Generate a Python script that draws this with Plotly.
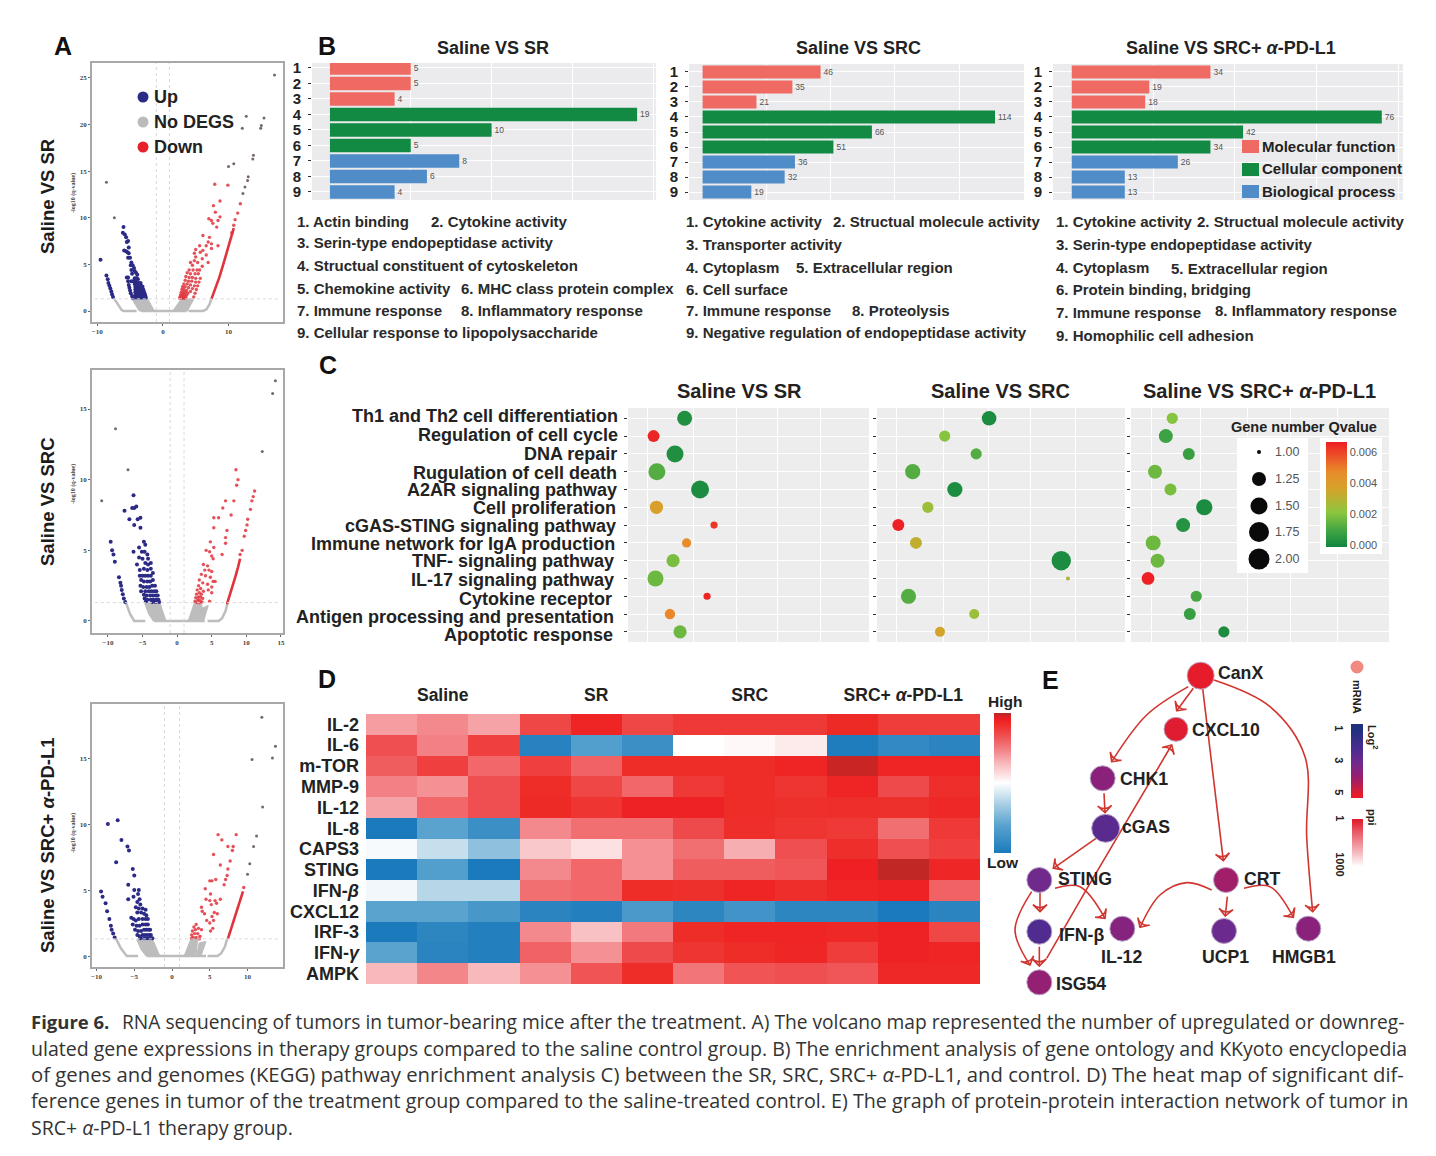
import plotly.graph_objects as go
import numpy as np

W, H = 1436, 1156
SANS = "Liberation Sans"
SERIF = "Liberation Serif"

# ---------- A: volcano data (read by eye) ----------
v1_up = [(-9.5,5.5),(-8.6,3.8),(-8.4,3.4),(-8.3,3.0),(-8.15,2.7),(-8.0,2.4),(-7.85,2.1),(-7.75,1.8),(-7.6,1.5),
 (-6,9),(-6.1,8.4),(-5.8,8.2),(-5.6,7.9),(-5.5,7.4),(-5.3,7.5),(-5.2,6.8),(-5.4,6.3),(-5.9,6.5),(-5.6,6.4),(-5.2,6.2),
 (-5.3,5.7),(-5,5.7),(-4.8,5.2),(-4.9,4.9),(-4.6,4.9),(-4.4,4.6),(-4.8,4.4),(-4.3,4.3),(-4.1,4.1),(-4.7,4.0),(-3.9,3.9),
 (-5.5,3.6),(-5.3,3.6),(-4.3,3.5),(-4.0,3.5),(-3.8,3.4),(-4.8,3.2),(-4.5,3.2),(-4.1,3.2),(-5.3,3.2),(-5.2,2.8),(-5.1,2.5),(-5.0,2.2),
 (-4.9,1.9),(-4.7,1.6),(-4.6,1.4),(-4.3,2.9),(-4.0,2.9),(-3.7,3.0),(-3.4,3.0),(-4.2,2.6),(-3.9,2.6),(-3.6,2.6),(-3.3,2.7),(-3.1,2.6),
 (-4.2,2.3),(-3.9,2.3),(-3.6,2.3),(-3.3,2.3),(-3.0,2.3),(-2.9,2.1),(-4.2,2.0),(-3.9,2.0),(-3.6,2.0),(-3.3,2.0),(-3.0,2.0),(-2.8,1.9),
 (-4.2,1.7),(-3.9,1.7),(-3.6,1.7),(-3.3,1.7),(-3.0,1.7),(-2.7,1.7),(-4.1,1.45),(-3.8,1.45),(-3.5,1.45),(-3.2,1.45),(-2.9,1.45),(-2.6,1.45)]
v1_down = [(7.9,13.6),(9.9,13.5),(8.7,11.8),(7.7,11.3),(8,10.6),(8.7,10.1),(8.4,9.7),(7,9.9),(7.4,9.7),(7.6,9.4),(8.2,9),(6.1,8.1),(7.1,7.9),
 (6.9,7.4),(7.4,7.2),(6.6,7),(5.6,7),(5,6.6),(6.1,6.5),(4.8,6.2),(5.7,6.3),(7.4,6.7),(8.4,7),(5,5.8),(4.8,5.4),(5.3,5.2),(6,5.6),(6.6,6),(6.9,5.2),
 (4.2,5.2),(4.5,4.9),(4,4.4),(4.6,4.4),(5.2,4.4),(5.6,4.4),(6,4.8),(3.7,4.1),(4.2,4),(4.9,4),(5.4,4),(3.5,3.7),(4,3.6),(4.5,3.6),(5,3.5),(5.7,3.5),
 (3.4,3.3),(3.9,3.2),(4.4,3.2),(5,3.1),(3.2,2.9),(3.7,2.9),(4.2,2.8),(4.8,2.7),(3,2.6),(3.4,2.6),(3.9,2.5),(4.5,2.4),(2.9,2.3),(3.2,2.3),(3.6,2.2),(4.2,2.1),
 (2.8,2.0),(3.1,2.0),(3.4,2.0),(3.8,1.9),(2.7,1.75),(3,1.75),(3.3,1.75),(3.6,1.7),(4.7,1.5),(4.9,1.9),(5.1,2.3),(5.3,2.7),(5.5,3.1),
 (2.6,1.5),(2.9,1.5),(3.2,1.5),(3.5,1.45),(2.6,1.35),(3,1.35),(3.4,1.35),(10.5,8.4),(10.8,9.2),(11,9.8),(11.4,10.5),(11.8,11.5)]
v1_far = [(-8.6,13.8),(-7.4,10),(17,25.3),(12.7,20.9),(12.1,19.6),(15.4,20.7),(15,19.9),(14.9,19.6),(13.8,16.7),(13.7,16.3),(10.8,15.8),(10,15.5),(13,14.4),(12.9,14),(12.5,13.3),(12.2,12.6)]
v1_streak_x = [7.4,8,8.6,9.2,9.8,10.4,10.8]
v1_streak_y = [1.3,2.4,3.6,5,6.4,8,8.9]
v1_gray = [([-7.4,-6.8,-6.3,-6,-4],[1.3,.6,.12,0,0]),([-4.6,-4.1,-3.6,-3.3],[1.3,.7,.15,0]),([-3.3,3.6],[0,0]),([3.6,4.1,4.6],[0,.7,1.3]),([3.9,6.1,6.6,7.1,7.4],[0,0,.15,.7,1.3])]
v1_wedges = [([-4.6,-2.3,-1.3,-3.3],[1.3,1.3,0,0]),([2.8,4.6,3.6,1.5],[1.3,1.3,0,0])]

v2_up = [(-6.3,8.9),(-7.6,7.8),(-6.5,8),(-6.2,8),(-5.9,8.1),(-6.9,7.2),(-5.7,7.2),(-5.3,7.3),(-6.2,6.8),(-5.3,6.6),(-9.6,5.6),(-9.4,5),(-9.2,4.7),(-9,4.2),(-8.4,3.1),
 (-8.2,2.7),(-8.1,2.5),(-8.0,2.2),(-7.85,1.9),(-7.7,1.6),(-7.5,1.35),(-4.8,5.6),(-5.5,5.2),(-4.6,5.4),(-6.3,4.9),(-5.1,4.9),(-4.7,4.9),(-4.3,4.7),(-5.5,4.5),(-5,4.4),(-4.2,4.4),
 (-5.8,4),(-4.6,4.1),(-4.2,4.0),(-3.8,4.1),(-5.4,3.6),(-4.8,3.7),(-4.3,3.6),(-3.8,3.7),(-5.4,3.2),(-5,3.2),(-4.6,3.2),(-4.2,3.2),(-3.8,3.2),(-3.5,3.4),
 (-5.2,2.9),(-4.8,2.8),(-4.3,2.8),(-3.9,2.8),(-3.5,2.9),(-5.3,2.5),(-4.9,2.4),(-4.4,2.4),(-4,2.4),(-3.6,2.5),(-3.2,2.5),(-5.2,2.1),(-4.6,2.1),(-4.1,2.1),(-3.7,2.1),(-3.3,2.1),(-3,2.1),
 (-4.8,1.85),(-4.4,1.8),(-3.9,1.8),(-3.5,1.8),(-3.1,1.8),(-2.8,1.8),(-4.7,1.6),(-4.5,1.4),(-4.3,1.5),(-3.8,1.5),(-3.4,1.5),(-3,1.5),(-2.7,1.5),(-3.6,1.35),(-3.1,1.35),(-2.6,1.35)]
v2_down = [(8.5,10.7),(8.8,10),(8.6,9.6),(11.2,9.2),(11,8.8),(10.8,8.5),(7,8.5),(8.2,8.5),(6.6,8),(7.8,7.5),(5.3,7.3),(6,7.3),(10.6,7.9),(10.2,7.2),(10.1,6.8),(7.2,6.4),(5.3,6.6),
 (9.9,6.4),(9.7,6),(7,5.9),(7,5.5),(4.8,5.6),(9.4,5),(9.1,4.7),(6.5,4.7),(5.3,5.2),(4.2,5),(4.7,4.9),(5,4.6),(5.2,4.4),(3.8,4),(4.4,3.9),(4,3.6),(4.6,3.6),(5,3.5),(3.5,3.3),(4.1,3.2),(4.8,3.1),
 (5.5,2.8),(5.2,2.8),(3.2,2.9),(3.7,2.7),(4.4,2.6),(5,2.4),(3.1,2.5),(3.4,2.3),(3.8,2.1),(4.5,2.2),(5,2),(2.9,2.2),(3.2,2),(3.5,1.9),(2.8,1.9),(3.1,1.7),(3.4,1.7),(3.7,1.6),
 (2.7,1.65),(3,1.5),(3.3,1.45),(3.6,1.35),(2.6,1.4),(2.9,1.3),(3.2,1.3),(4.7,1.4)]
v2_far = [(-8.9,13.6),(-7.1,10.7),(-10.9,8.5),(14.2,17),(13.8,16.1),(12.3,12)]
v2_streak_x = [7.2,7.6,8,8.4,8.8,9.1]
v2_streak_y = [1.2,1.8,2.5,3.1,3.8,4.4]
v2_gray = [([-7.4,-6.8,-6.2,-4.6],[1.3,.5,0,0]),([-4.6,-4,-3.3],[1.3,.5,0]),([-3.3,4],[0,0]),([4.4,6,6.5,7,7.3],[0,0,.2,.7,1.3])]
v2_wedges = [([-4.4,-2.5,-1.6,-3.4],[1.3,1.3,0,0]),([2.5,3.5,3.9,1.6],[1.3,1.3,.2,0]),([3.6,4.5,3.9,3.2],[.9,1.1,.1,.1])]

v3_up = [(-7.2,10.3),(-8.5,10),(-6.7,8.8),(-5.9,8.3),(-5.7,8),(-7.4,7.1),(-5.2,6.6),(-5,6.1),(-5.8,5.4),(-9.4,4.9),(-9.2,4.5),(-8.8,4),(-8.6,3.4),(-8.3,2.8),(-8.1,2.3),(-8,2.0),(-7.8,1.7),(-7.6,1.4),
 (-4.4,5),(-5,5),(-5.8,4.3),(-5.1,4.5),(-4.5,4.7),(-4.3,4.3),(-4.6,4.1),(-4.2,3.9),(-4.8,3.7),(-4.4,3.6),(-3.9,3.6),(-3.5,3.5),(-4.6,3.3),(-4.1,3.3),(-3.7,3.2),(-3.4,3.1),
 (-5.4,2.9),(-5.1,2.8),(-4.8,2.7),(-4.4,2.8),(-3.9,2.8),(-3.5,2.8),(-3.2,2.8),(-5.2,2.4),(-4.7,2.3),(-4.3,2.3),(-3.9,2.4),(-3.5,2.4),(-3.2,2.4),(-4.9,2.0),(-4.5,1.9),(-4.1,1.9),(-3.7,2),(-3.4,2),(-3.1,2),(-2.9,2),
 (-4.6,1.6),(-4.3,1.5),(-3.9,1.6),(-3.6,1.6),(-3.3,1.6),(-3,1.6),(-2.8,1.6),(-4.2,1.35),(-3.7,1.35),(-3.3,1.35),(-2.9,1.35),(-2.6,1.35)]
v3_down = [(6.1,9.2),(6.6,8.8),(8.5,9.2),(7.4,8.3),(8.1,8.3),(8,8),(5.5,7.7),(7.7,7.2),(6.4,6.9),(7.4,6.6),(7.3,6.1),(7.1,5.8),(5.8,5.8),(5,5.7),(5.3,5.7),(6.9,5.4),(9.5,5.2),(4.4,5.1),(5.1,4.7),
 (4.5,4.3),(5,4.2),(5.7,4.2),(6.4,4.3),(5.9,4),(5.2,3.9),(3.9,3.7),(4,3.4),(4.3,3.2),(5.6,3.3),(6,3.2),(5.3,3),(4.6,2.7),(5,2.5),(5.5,2.7),(3.2,2.4),(2.9,2.2),(3.1,2),(3.5,2.1),(3.9,2),
 (2.7,1.9),(3,1.7),(3.4,1.7),(3.7,1.5),(2.6,1.6),(2.8,1.4),(3.2,1.4),(2.6,1.35),(3.6,1.3),(5.4,2.1),(5.1,1.9)]
v3_far = [(11.9,18.1),(13.7,15.9),(10.6,14.9),(13.3,15),(12,11.3),(11.2,9.1),(10.8,8.3),(10.3,7),(10,6.2)]
v3_streak_x = [7.4,7.8,8.2,8.6,9,9.4]
v3_streak_y = [1.3,2,2.8,3.5,4.2,4.9]
v3_gray = [([-7.4,-6.8,-6,-4.5],[1.3,.6,0,0]),([-4.6,-4,-3.3],[1.3,.5,0]),([-3.3,4.5],[0,0]),([4.7,6,6.5,7,7.3],[0,0,.2,.7,1.3])]
v3_wedges = [([-4.4,-2.6,-1.6,-3.4],[1.3,1.3,0,0]),([2.5,3.4,3.2,1.6],[1.3,1.3,.1,0]),([3.6,4.5,3.9,3.3],[1.0,1.1,.1,.1])]

v_ticks = [([-10,0,10],[0,5,10,15,20,25]),([-10,-5,0,5,10,15],[0,5,10,15]),([-10,-5,0,5,10],[0,5,10,15])]
v_names = ["Saline VS SR","Saline VS SRC","Saline VS SRC+ <i>α</i>-PD-L1"]
legend_a = ["Up","No DEGS","Down"]

# ---------- B ----------
b_rows = list(range(1,10))
b_vals = [[5,5,4,19,10,5,8,6,4],[46,35,21,114,66,51,36,32,19],[34,19,18,76,42,34,26,13,13]]
b_titles = ["Saline VS SR","Saline VS SRC","Saline VS SRC+ <i>α</i>-PD-L1"]
b_groups = ["Molecular function","Cellular component","Biological process"]
b_terms = [(298,222,"1. Actin binding"),(432,222,"2. Cytokine activity"),(298,243,"3. Serin-type endopeptidase activity"),
 (298,266,"4. Structual constituent of cytoskeleton"),(298,288,"5. Chemokine activity"),(462,288,"6. MHC class protein complex"),
 (298,311,"7. Immune response"),(462,311,"8. Inflammatory response"),(298,333,"9. Cellular response to lipopolysaccharide"),
 (687,222,"1. Cytokine activity"),(834,222,"2. Structual molecule activity"),(687,245,"3. Transporter activity"),(687,267,"4. Cytoplasm"),
 (797,267,"5. Extracellular region"),(687,289,"6. Cell surface"),(687,311,"7. Immune response"),(853,311,"8. Proteolysis"),
 (687,333,"9. Negative regulation of endopeptidase activity"),
 (1057,222,"1. Cytokine activity"),(1198,222,"2. Structual molecule activity"),(1057,245,"3. Serin-type endopeptidase activity"),
 (1057,267,"4. Cytoplasm"),(1172,268,"5. Extracellular region"),(1057,290,"6. Protein binding, bridging"),(1057,312,"7. Immune response"),
 (1216,311,"8. Inflammatory response"),(1057,335,"9. Homophilic cell adhesion")]

# ---------- C ----------
pathways = ["Th1 and Th2 cell differentiation","Regulation of cell cycle","DNA repair","Rugulation of cell death","A2AR signaling pathway",
 "Cell proliferation","cGAS-STING signaling pathway","Immune network for IgA production","TNF- signaling pathway","IL-17 signaling pathway",
 "Cytokine receptor","Antigen processing and presentation","Apoptotic response"]
c_x = [[23.5,10.6,19.5,12,29.9,11.8,35.7,24.3,18.7,11.4,32.8,17.4,21.6],
       [45.2,27.3,40,14.4,31.4,20.5,8.6,15.7,74.3,77,12.7,39.2,25.4],
       [16,13.5,22.4,9.3,15.3,28.4,20.2,8.6,10.3,6.6,25.3,22.8,36]]
c_gene = [[1.33,1.2,1.5,1.5,1.58,1.23,1.08,1.13,1.23,1.42,1.08,1.16,1.23],
          [1.3,1.18,1.18,1.35,1.35,1.18,1.2,1.2,1.7,1.0,1.35,1.15,1.15],
          [1.18,1.25,1.2,1.25,1.2,1.43,1.25,1.33,1.25,1.22,1.18,1.2,1.18]]
c_q = [[.0002,.0065,.0002,.0012,.0001,.0038,.0062,.0046,.0018,.0016,.0065,.0048,.0016],
       [.0001,.002,.0012,.0012,.0001,.0024,.0066,.0032,.0001,.0028,.0012,.0024,.0036],
       [.002,.0008,.0007,.0016,.0018,.0001,.0003,.0016,.0016,.0066,.001,.0007,.0001]]
c_titles = ["Saline VS SR","Saline VS SRC","Saline VS SRC+ <i>α</i>-PD-L1"]
size_levels = [1.00,1.25,1.50,1.75,2.00]
q_ticks = [0,.002,.004,.006]

# ---------- D ----------
genes = ["IL-2","IL-6","m-TOR","MMP-9","IL-12","IL-8","CAPS3","STING","IFN-<i>β</i>","CXCL12","IRF-3","IFN-<i>γ</i>","AMPK"]
groups_d = ["Saline","SR","SRC","SRC+ <i>α</i>-PD-L1"]
heat = [[.38,.45,.36,.72,.88,.72,.78,.78,.78,.85,.76,.76],
 [.68,.48,.75,-.92,-.65,-.8,0,.03,.08,-.97,-.85,-.9],
 [.62,.75,.58,.75,.6,.84,.84,.84,.88,.97,.88,.88],
 [.48,.42,.68,.84,.72,.58,.78,.84,.8,.88,.7,.83],
 [.36,.58,.68,.85,.8,.89,.89,.84,.82,.83,.82,.86],
 [-1,-.6,-.8,.45,.55,.55,.7,.83,.8,.78,.55,.78],
 [-.03,-.2,-.4,.22,.12,.42,.55,.32,.68,.83,.68,.75],
 [-1,-.65,-1,.45,.58,.42,.62,.62,.65,.9,.98,.87],
 [-.05,-.25,-.25,.55,.58,.84,.82,.88,.83,.88,.89,.6],
 [-.6,-.6,-.72,-.9,-.95,-.7,-.88,-.75,-.88,-.88,-1,-.9],
 [-1,-.88,-.95,.45,.25,.5,.84,.88,.88,.86,.89,.72],
 [-.6,-.9,-.95,.6,.42,.7,.8,.84,.87,.76,.89,.88],
 [.28,.46,.28,.42,.66,.84,.52,.66,.68,.65,.86,.86]]

# ---------- E ----------
node_names = ["CanX","CXCL10","CHK1","cGAS","STING","CRT","IFN-β","IL-12","UCP1","HMGB1","ISG54"]
node_x = [572,498,278,287,88,648,88,337,642,895,88]
node_y = [77,238,385,535,690,690,845,836,843,836,997]
node_log2 = [5,4.9,3.6,2.5,3,4,2.3,3.5,2.9,3.6,3.8]
node_label_x = [628,548,332,338,148,705,150,275,578,788,140]
node_label_y = [68,240,388,530,686,686,855,920,920,920,1003]
edges = [([535,410,305],[110,195,335]),([550,500],[115,182]),([578,640],[115,632]),
 ([612,780,885,890,908],[90,170,320,560,785]),([282,285],[430,488]),([258,130],[565,655]),
 ([110,240,485],[925,700,285]),([135,210,285],[715,710,805]),([605,530,450,390],[720,698,735,832]),
 ([652,646],[740,798]),([702,780,850],[715,710,802]),([90,90],[728,785]),([88,88],[890,948]),([65,15,60],[725,840,945])]
log2_levels = [1,2,3,4,5]
ppi_levels = [1,250,500,750,1000]

caption = [(122,1021,19.2,"RNA sequencing of tumors in tumor-bearing mice after the treatment. A) The volcano map represented the number of upregulated or downreg-"),
 (31,1048,19.55,"ulated gene expressions in therapy groups compared to the saline control group. B) The enrichment analysis of gene ontology and KKyoto encyclopedia"),
 (31,1074,20.3,"of genes and genomes (KEGG) pathway enrichment analysis C) between the SR, SRC, SRC+ <i>α</i>-PD-L1, and control. D) The heat map of significant dif-"),
 (31,1100,19.7,"ference genes in tumor of the treatment group compared to the saline-treated control. E) The graph of protein-protein interaction network of tumor in"),
 (31,1127,19.5,"SRC+ <i>α</i>-PD-L1 therapy group.")]

# ---------- helpers ----------
fig = go.Figure()
layout = {}
anns, shapes = [], []
axn = [1]

def px(x): return x / W
def py(y): return 1 - y / H

def axes(x0, x1, y0, y1, xr, yr, xkw=None, ykw=None):
    axn[0] += 1
    n = axn[0]
    xa = dict(domain=[px(x0), px(x1)], range=xr, anchor=f"y{n}", showgrid=False, zeroline=False)
    ya = dict(domain=[py(y1), py(y0)], range=yr, anchor=f"x{n}", showgrid=False, zeroline=False)
    xa.update(xkw or {}); ya.update(ykw or {})
    layout[f"xaxis{n}"] = xa
    layout[f"yaxis{n}"] = ya
    return f"x{n}", f"y{n}"

def txt(x, y, s, size=14, anchor="left", bold=True, angle=0, color="#222222", family=SANS):
    shift = {"left": -3, "right": 3, "center": 0}[anchor]
    anns.append(dict(xref="paper", yref="paper", x=px(x), y=py(y), text=s, showarrow=False, xanchor=anchor, yanchor="middle", xshift=shift,
                     textangle=angle, font=dict(size=size, color=color, family=family, weight="bold" if bold else "normal")))

def circle(cx, cy, d, color):
    shapes.append(dict(type="circle", xref="paper", yref="paper", x0=px(cx-d/2), x1=px(cx+d/2), y0=py(cy+d/2), y1=py(cy-d/2),
                       fillcolor=color, line=dict(width=0), layer="above"))

def rect(x0, y0, x1, y1, color):
    shapes.append(dict(type="rect", xref="paper", yref="paper", x0=px(x0), x1=px(x1), y0=py(y1), y1=py(y0),
                       fillcolor=color, line=dict(width=0), layer="above"))

def unz(p): return [a for a, _ in p], [b for _, b in p]

# ---------- A ----------
BLUE, RED, GRAY = "#2b2a85", "#e0333c", "#bdbdbd"
vdata = [(v1_up,v1_down,v1_far,v1_streak_x,v1_streak_y,v1_gray,v1_wedges),
         (v2_up,v2_down,v2_far,v2_streak_x,v2_streak_y,v2_gray,v2_wedges),
         (v3_up,v3_down,v3_far,v3_streak_x,v3_streak_y,v3_gray,v3_wedges)]
vbox = [(63,322,[-10.8,18.3],[-1.18,26.6]),(370,633,[-12.3,15.3],[-.85,17.76]),(704,967,[-10.6,14.7],[-.83,19.1])]
vname_y = [197,502,845]
for i,(up,dn,far,sx,sy,gl,wd) in enumerate(vdata):
    y0,y1,xr,yr = vbox[i]
    tf = dict(size=7, family=SERIF, color="#444444", weight="bold")
    frame = dict(showline=True, mirror=True, linecolor="#a8a8a8", linewidth=1.5, ticks="outside", ticklen=2, tickcolor="#666666", tickwidth=1, tickfont=tf)
    xa,ya = axes(92,283,y0,y1,xr,yr,dict(tickvals=v_ticks[i][0],**frame),dict(tickvals=v_ticks[i][1],**frame))
    for xv,yv in wd:
        fig.add_trace(go.Scatter(x=xv+xv[:1],y=yv+yv[:1],mode="lines",fill="toself",fillcolor=GRAY,line=dict(color=GRAY,width=1),xaxis=xa,yaxis=ya,hoverinfo="skip"))
    for xv,yv in gl:
        fig.add_trace(go.Scatter(x=xv,y=yv,mode="lines",line=dict(color=GRAY,width=2.5),xaxis=xa,yaxis=ya,hoverinfo="skip"))
    fig.add_trace(go.Scatter(x=sx,y=sy,mode="lines",line=dict(color=RED,width=2.6),xaxis=xa,yaxis=ya,hoverinfo="skip"))
    ux,uy = unz(up); dx,dy = unz(dn); fx,fy = unz(far)
    fig.add_trace(go.Scatter(x=ux,y=uy,mode="markers",marker=dict(size=4,color=BLUE),xaxis=xa,yaxis=ya,name="Up"))
    fig.add_trace(go.Scatter(x=dx,y=dy,mode="markers",marker=dict(size=3.4,color=RED,opacity=.85),xaxis=xa,yaxis=ya,name="Down"))
    fig.add_trace(go.Scatter(x=fx,y=fy,mode="markers",marker=dict(size=3,color="#77686c"),xaxis=xa,yaxis=ya,name="Far"))
    for v in (-1,1):
        shapes.append(dict(type="line",xref=xa,yref=f"{ya} domain",x0=v,x1=v,y0=0,y1=1,line=dict(color="#d8d8d8",width=1,dash="3px,3px"),layer="above"))
    shapes.append(dict(type="line",xref=f"{xa} domain",yref=ya,x0=.015,x1=.985,y0=1.3,y1=1.3,line=dict(color="#d8d8d8",width=1,dash="3px,3px"),layer="above"))
    txt(73,[193,484,833][i],"-log10 (q-value)",size=6,angle=-90,anchor="center",family=SERIF,color="#444444")
    txt(47,vname_y[i],v_names[i],size=18.5,angle=-90,anchor="center",color="#1c1c1c")

for lab,yy,col in zip(legend_a,[97,122,147],[BLUE,"#bbbbbb","#e8222a"]):
    circle(143,yy,11,col)
    txt(155,yy,lab,size=18)

# ---------- B ----------
C_B = ["#ee6a62"]*3+["#138a43"]*3+["#4f8cc8"]*3
bbox = [(312,656,63,200,[-1.11,20.17],[9.52,.68],[5,10,15,20]),
        (689,1024,64,200,[-5.3,125.3],[9.53,.47],[25,50,75,100,125]),
        (1053,1403,64,200,[-4.6,81.2],[9.53,.47],[20,40,60,80])]
btx = [493,858,1231]
for i in range(3):
    x0,x1,y0,y1,xr,yr,gr = bbox[i]
    xa,ya = axes(x0,x1,y0,y1,xr,yr,
        dict(showgrid=True,gridcolor="white",gridwidth=1,tickvals=gr,showticklabels=False,ticks=""),
        dict(showgrid=True,gridcolor="white",gridwidth=1,tickvals=b_rows,ticks="outside",ticklen=3,tickcolor="#333333",
             tickfont=dict(size=15,family=SANS,color="#222222",weight="bold"),ticklabelstandoff=4))
    shapes.append(dict(type="rect",xref="paper",yref="paper",x0=px(x0),x1=px(x1),y0=py(y1),y1=py(y0),fillcolor="#ebebed",line=dict(width=0),layer="below"))
    fig.add_trace(go.Bar(x=b_vals[i],y=b_rows,orientation="h",marker=dict(color=C_B,line=dict(width=0)),width=.87,text=b_vals[i],
                         textposition="outside",cliponaxis=False,textfont=dict(size=8.5,color="#555555",family=SANS),xaxis=xa,yaxis=ya,hoverinfo="skip"))
    txt(btx[i],48,b_titles[i],size=18,anchor="center")
for (xx,yy,s) in b_terms:
    txt(xx,yy,s,size=15,color="#2a2a2a")
for lab,yy,col in zip(b_groups,[146,169,191],["#ee6a62","#138a43","#4f8cc8"]):
    rect(1242,yy-6,1259,yy+7,col)
    txt(1263,yy,lab,size=15)

# ---------- C ----------
Q_SCALE = [[0,"#10853f"],[.15,"#3fa443"],[.33,"#8cc63f"],[.55,"#d4a42a"],[.72,"#e98a2a"],[1,"#ee1c25"]]
cbox = [(628,869),(877,1125),(1131,1389)]
cty = [739,1000,1259]
def gene_size(g): return np.interp(g,[1,1.25,1.5,1.75,2],[4,14,17,20,21])
for i in range(3):
    x0,x1 = cbox[i]
    xa,ya = axes(x0,x1,408,642,[0,100],[12.57,-.58],
        dict(showgrid=True,gridcolor="white",gridwidth=1,tickvals=[8,27,45,62,80],showticklabels=False,ticks=""),
        dict(showgrid=True,gridcolor="white",gridwidth=1,tickvals=list(range(13)),showticklabels=False,ticks="outside",ticklen=3,tickcolor="#333333"))
    shapes.append(dict(type="rect",xref="paper",yref="paper",x0=px(x0),x1=px(x1),y0=py(642),y1=py(408),fillcolor="#ededee",line=dict(width=0),layer="below"))
    fig.add_trace(go.Scatter(x=c_x[i],y=list(range(13)),mode="markers",
        marker=dict(size=list(gene_size(np.array(c_gene[i]))),color=c_q[i],coloraxis="coloraxis",line=dict(width=0),opacity=1),
        xaxis=xa,yaxis=ya,name=c_titles[i],text=pathways))
    txt(cty[i],391,c_titles[i],size=20,anchor="center")
label_y = [416,435,454,473,490,508,526,544,561,580,599,617,635]
label_r = [617,617,616,616,616,615,615,614,613,613,611,613,612]
for s,yy,rr in zip(pathways,label_y,label_r):
    txt(rr,yy,s,size=18,anchor="right",color="#222222")

layout["coloraxis"] = dict(colorscale=Q_SCALE,cmin=-.00015,cmax=.00665,
    colorbar=dict(x=px(1326),xanchor="left",y=py(547),yanchor="bottom",lenmode="pixels",len=105,thickness=21,outlinewidth=0,
                  tickvals=q_ticks,ticktext=["0.000","0.002","0.004","0.006"],ticks="",tickfont=dict(size=11,color="#555555",family=SANS),ypad=0,xpad=0,bgcolor="rgba(0,0,0,0)"))
rect(1237,438,1308,573,"white")
rect(1320,438,1382,554,"white")
for g,yy in zip(size_levels,[452,479,506,532,559]):
    circle(1259,yy,float(gene_size(g)),"#0a0a0a")
    txt(1276,yy,f"{g:.2f}",size=12.5,bold=False,color="#555555")
txt(1304,427,"Gene number Qvalue",size=14.5,anchor="center")

# ---------- D ----------
H_SCALE = [[0,"#1b7abb"],[.2,"#5aa3cf"],[.35,"#a9cfe4"],[.5,"#ffffff"],[.65,"#f7b4b7"],[.75,"#f27a7e"],[.85,"#ef4a4b"],[.925,"#ee2a26"],[.96,"#ee1c23"],[1,"#b22a26"]]
xa,ya = axes(366,980,714,984,[-.5,11.5],[12.5,-.5],
    dict(side="top",tickvals=[1,4,7,10],ticktext=groups_d,ticks="",ticklabelstandoff=9,tickfont=dict(size=17.5,family=SANS,color="#222222",weight="bold")),
    dict(tickvals=list(range(13)),ticktext=genes,ticks="",ticklabelstandoff=6,tickfont=dict(size=18,family=SANS,color="#222222",weight="bold")))
fig.add_trace(go.Heatmap(z=heat,x=list(range(12)),y=list(range(13)),coloraxis="coloraxis2",xaxis=xa,yaxis=ya,hoverinfo="z"))
layout["coloraxis2"] = dict(colorscale=H_SCALE,cmin=-1,cmax=1,
    colorbar=dict(x=px(994),xanchor="left",y=py(853),yanchor="bottom",lenmode="pixels",len=140,thickness=17,outlinewidth=0,ypad=0,xpad=0,
                  ticks="",showticklabels=False,bgcolor="rgba(0,0,0,0)"))
txt(1005,701,"High",size=15.5,anchor="center")
txt(1003,863,"Low",size=15.5,anchor="center")

# ---------- E ----------
L_SCALE = [[0,"#21307f"],[.3,"#4c2c90"],[.5,"#6f2a8c"],[.68,"#8f2078"],[.82,"#b01e58"],[1,"#e61c2a"]]
xa,ya = axes(1010,1410,650,1000,[0,1200],[1050,0],dict(visible=False),dict(visible=False))
ARROW = "#d0352f"
for ex,ey in edges:
    n = len(ex)
    fig.add_trace(go.Scatter(x=ex,y=ey,mode="lines",line=dict(color=ARROW,width=1.6,shape="spline" if n>2 else "linear",smoothing=1),xaxis=xa,yaxis=ya,hoverinfo="skip"))
    fig.add_trace(go.Scatter(x=ex[-2:],y=ey[-2:],mode="markers",
        marker=dict(symbol="arrow-wide-open",size=[0,10],angleref="previous",color=ARROW,opacity=1,line=dict(color=ARROW,width=1.6)),xaxis=xa,yaxis=ya,hoverinfo="skip"))
node_d = [27,24,25,28,25,25,25,25,25,25,25]
fig.add_trace(go.Scatter(x=node_x,y=node_y,mode="markers",text=node_names,
    marker=dict(size=node_d,color=node_log2,colorscale=L_SCALE,cmin=1,cmax=5,opacity=1,line=dict(width=1,color="#b9a5c8")),xaxis=xa,yaxis=ya,name="mRNA"))
for s,lx,ly in zip(node_names,node_label_x,node_label_y):
    txt(1010+lx/3,650+ly/3,s,size=17.7)
circle(1357,667,13,"#f08a80")
txt(1357,697,"mRNA",size=11,angle=90,anchor="center")
xa,ya = axes(1351,1363,724,798,[0,1],[5.25,.625],dict(visible=False),
    dict(tickvals=[1,3,5],ticks="",tickangle=90,ticklabelstandoff=4,tickfont=dict(size=11,family=SANS,weight="bold",color="#222222")))
fig.add_trace(go.Heatmap(z=[[v,v] for v in log2_levels],x=[0,1],y=log2_levels,colorscale=L_SCALE,zmin=1,zmax=5,zsmooth="best",showscale=False,xaxis=xa,yaxis=ya,hoverinfo="skip"))
txt(1373,737,"Log<sup>2</sup>",size=11,angle=90,anchor="center")
xa,ya = axes(1352,1363,819,868,[0,1],[1040,-20],dict(visible=False),
    dict(tickvals=[1,1000],ticks="",tickangle=90,ticklabelstandoff=4,tickfont=dict(size=11,family=SANS,weight="bold",color="#222222")))
fig.add_trace(go.Heatmap(z=[[v,v] for v in ppi_levels],x=[0,1],y=ppi_levels,colorscale=[[0,"#e01f2f"],[1,"#ffffff"]],zmin=1,zmax=1000,zsmooth="best",showscale=False,xaxis=xa,yaxis=ya,hoverinfo="skip"))
txt(1372,817,"ppi",size=11,angle=90,anchor="center")

# ---------- letters & caption ----------
for s,xx,yy in [("A",63,46),("B",327,46),("C",328,365),("D",327,679),("E",1050,680)]:
    txt(xx,yy,s,size=25,anchor="center",color="#111111")
txt(32,1021,"Figure 6.",size=18.5,color="#333333",family="Open Sans")
for xx,yy,sz,s in caption:
    txt(xx+1,yy,s,size=sz,bold=False,color="#333333",family="Open Sans")

layout.update(width=W,height=H,margin=dict(l=0,r=0,t=0,b=0,autoexpand=False),paper_bgcolor="white",plot_bgcolor="rgba(0,0,0,0)",
              showlegend=False,annotations=anns,shapes=shapes,font=dict(family=SANS))
fig.update_layout(**layout)
fig.write_html("out.html",post_script="document.body.style.margin='0';",config=dict(displayModeBar=False))
